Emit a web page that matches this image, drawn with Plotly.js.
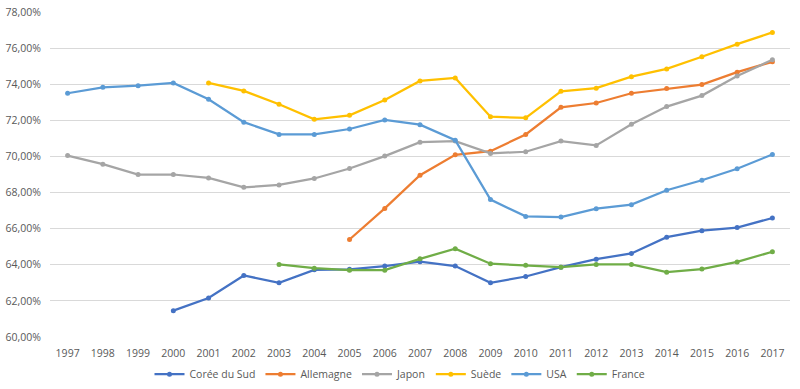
<!DOCTYPE html>
<html><head><meta charset="utf-8">
<script src="https://cdn.plot.ly/plotly-3.0.1.min.js"></script>
<style>html,body{margin:0;padding:0;background:#fff}#c{width:800px;height:389px}</style>
</head><body><div id="c"></div>
<script>
const years = [1997,1998,1999,2000,2001,2002,2003,2004,2005,2006,2007,2008,2009,2010,2011,2012,2013,2014,2015,2016,2017];
const coree = [null,null,null,61.46,62.16,63.41,63.00,63.72,63.75,63.93,64.17,63.93,63.00,63.35,63.87,64.31,64.63,65.53,65.89,66.06,66.59];
const allemagne = [null,null,null,null,null,null,null,null,65.40,67.12,68.96,70.09,70.29,71.22,72.72,72.96,73.50,73.76,73.98,74.67,75.24];
const japon = [70.05,69.57,69.00,69.00,68.81,68.29,68.42,68.78,69.33,70.02,70.79,70.85,70.17,70.26,70.85,70.61,71.78,72.76,73.37,74.46,75.35];
const suede = [null,null,null,null,74.07,73.63,72.89,72.06,72.28,73.13,74.18,74.35,72.20,72.14,73.61,73.78,74.42,74.85,75.52,76.22,76.87];
const usa = [73.50,73.83,73.92,74.07,73.17,71.90,71.22,71.22,71.52,72.02,71.76,70.90,67.61,66.68,66.64,67.11,67.33,68.13,68.68,69.32,70.11];
const france = [null,null,null,null,null,null,64.02,63.81,63.70,63.70,64.33,64.89,64.06,63.98,63.87,64.02,64.02,63.59,63.76,64.16,64.72];
const names = ["Corée du Sud","Allemagne","Japon","Suède","USA","France"];
const colors = ["#4472C4","#ED7D31","#A5A5A5","#FFC000","#5B9BD5","#70AD47"];
const series = [coree, allemagne, japon, suede, usa, france];

const traces = series.map((s,i)=>({
  x: years, y: s, name: names[i], type:'scatter', mode:'lines+markers',
  connectgaps:false,
  line:{color:colors[i], width:2.25},
  marker:{color:colors[i], size:5}
}));

const layout = {
  width:800, height:389,
  margin:{l:50,r:10,t:12,b:52, autoexpand:false},
  paper_bgcolor:'#fff', plot_bgcolor:'#fff',
  separators:', ',
  font:{family:'Open Sans, sans-serif', size:10.5, color:'#595959'},
  showlegend:true,
  legend:{orientation:'h', x:0.5, xanchor:'center', xref:'container', yref:'container', y:0.038, yanchor:'middle',
          font:{size:10.5,color:'#595959'}, itemwidth:30, bgcolor:'rgba(0,0,0,0)'},
  xaxis:{range:[1996.5,2017.5], tickmode:'array', tickvals:years, ticktext:years.map(String),
         showgrid:false, zeroline:false, showline:false, ticks:'outside', ticklen:6,
         tickcolor:'rgba(0,0,0,0)', automargin:false},
  yaxis:{range:[60,78], dtick:2, tick0:60, tickformat:'.2f', ticksuffix:'%',
         showgrid:true, gridcolor:'#D9D9D9', gridwidth:1, zeroline:false, showline:false,
         ticks:'', ticklabelstandoff:8, automargin:false}
};
Plotly.newPlot('c', traces, layout, {displayModeBar:false, staticPlot:true});
</script></body></html>
